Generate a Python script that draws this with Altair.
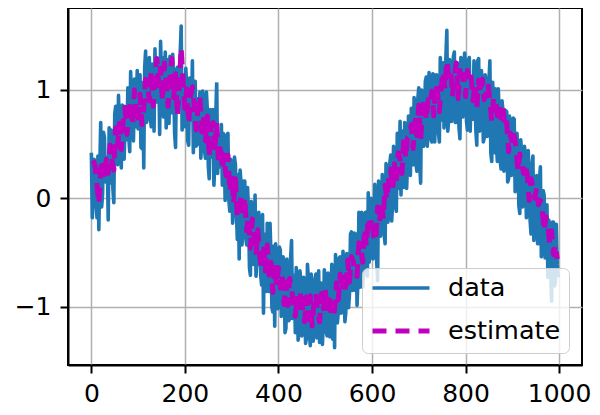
import altair as alt
import pandas as pd

# x positions (time steps)
time_data = list(range(0, 1000, 4))
time_data_mid = list(range(2, 1000, 4))
time_est = list(range(4, 1000, 4))

data_vals = [
    0.42, -0.01, 0.28, -0.18, -0.29, 0.70, 0.04, 0.56, 0.21, -0.20,
    0.14, 0.61, -0.04, 0.85, 0.31, 0.67, 0.28, 0.85, 0.68, 0.54,
    0.57, 1.17, 0.89, 1.10, 0.72, 0.64, 1.14, 0.46, 0.28, 1.36,
    0.75, 1.30, 0.66, 1.09, 1.38, 0.89, 1.21, 1.45, 1.30, 0.98,
    0.65, 1.18, 1.31, 0.79, 1.08, 0.47, 1.21, 1.00, 1.59, 0.78,
    0.66, 1.01, 0.49, 1.05, 1.27, 0.76, 0.48, 0.91, 0.98, 0.53,
    0.78, 0.37, 0.81, 0.18, 0.60, 0.82, 0.33, 1.07, 0.59, 0.46,
    0.12, 0.45, 0.21, 0.60, -0.12, 0.26, -0.08, 0.31, -0.38, -0.56,
    0.14, -0.25, 0.16, -0.43, -0.14, -0.71, -0.14, -0.43, -0.72, -0.61,
    -0.39, -0.80, -1.06, -0.63, -0.23, -0.86, -0.54, -1.05, -1.18, -0.71,
    -0.96, -0.48, -0.93, -0.65, -1.20, -0.79, -1.11, -0.39, -0.97, -1.24,
    -0.80, -1.21, -0.77, -1.08, -0.94, -1.29, -0.75, -1.36, -0.88, -1.18,
    -0.70, -1.07, -1.33, -0.80, -1.12, -0.74, -1.27, -0.83, -0.97, -1.30,
    -1.38, -0.71, -1.04, -0.54, -0.92, -0.72, -1.05, -0.52, -0.87, -0.31,
    -0.73, -0.85, -0.99, -0.13, -0.45, -0.82, -0.21, -0.51, 0.05, -0.40,
    -0.10, -0.54, -0.10, -0.76, 0.13, -0.23, 0.01, -0.42, 0.24, -0.02,
    0.40, -0.06, 0.32, -0.12, 0.59, 0.71, 0.50, 0.10, 0.64, 0.34,
    0.54, 0.83, 0.31, 0.78, 0.25, 1.02, 0.14, 0.97, 0.66, 1.12,
    0.59, 0.94, 0.52, 1.14, 0.78, 1.10, 0.52, 1.08, 1.25, 0.91,
    1.55, 0.73, 1.21, 0.89, 1.35, 0.70, 1.15, 0.55, 1.28, 0.87,
    1.19, 0.63, 1.30, 1.02, 0.73, 1.06, 0.49, 1.29, 0.74, 0.98,
    0.56, 1.08, 0.71, 1.27, 0.34, 0.82, 1.01, 0.34, 0.77, 0.27,
    0.81, 0.50, 0.80, 0.18, 0.60, 0.23, 0.73, 0.09, 0.40, -0.14,
    0.40, 0.06, 0.39, -0.12, 0.15, -0.33, 0.39, -0.11, 0.21, -0.42,
    0.29, -0.41, 0.03, -0.44, -0.73, -0.27, -0.95, -0.22, -0.78, -0.61,
]

data_vals_mid = [
    -0.18, 0.36, -0.02, 0.39, 0.28, -0.08, 0.61, 0.15, 0.38, 0.65,
    0.63, 0.09, 0.78, 0.33, 0.95, 0.48, 0.86, 0.36, 0.82, 1.02,
    0.43, 0.86, 0.53, 0.66, 1.18, 1.05, 0.47, 1.07, 1.21, 0.70,
    1.19, 0.75, 1.24, 0.62, 0.93, 1.29, 0.59, 1.10, 0.75, 1.35,
    1.28, 0.69, 0.84, 1.33, 0.60, 1.19, 0.86, 1.35, 0.63, 1.12,
    1.20, 0.53, 1.11, 0.72, 0.42, 1.08, 0.92, 0.50, 0.37, 0.99,
    0.44, 0.98, 0.30, 0.82, 0.38, 0.12, 0.76, 0.23, 0.29, 0.68,
    0.60, -0.02, 0.59, -0.02, 0.36, -0.23, 0.38, -0.11, 0.22, 0.26,
    -0.43, 0.16, -0.36, 0.10, -0.64, -0.03, -0.61, 0.03, -0.54, -0.13,
    -0.71, -0.15, -0.33, -0.86, -0.78, -0.23, -1.01, -0.44, -0.42, -1.02,
    -0.45, -1.09, -0.54, -1.24, -0.56, -1.13, -0.55, -1.11, -0.71, -0.64,
    -1.31, -0.67, -1.27, -0.73, -1.34, -0.61, -1.22, -0.70, -1.32, -0.75,
    -1.29, -0.67, -0.78, -1.35, -0.66, -1.23, -0.69, -1.28, -0.61, -0.67,
    -0.52, -1.15, -0.55, -1.06, -0.49, -1.14, -0.51, -1.01, -0.33, -0.85,
    -0.32, -0.33, -0.75, -0.82, -0.13, -0.67, -0.13, -0.72, -0.59, 0.00,
    -0.56, 0.13, -0.58, 0.16, -0.35, 0.22, -0.34, 0.32, -0.22, 0.32,
    -0.21, 0.48, -0.06, 0.60, 0.09, 0.03, 0.62, 0.70, 0.09, 0.76,
    0.21, 0.33, 0.93, 0.31, 0.92, 0.32, 1.00, 0.48, 1.08, 0.48,
    1.16, 0.55, 1.15, 0.52, 1.14, 0.61, 1.30, 0.72, 0.65, 1.31,
    0.62, 1.28, 0.71, 1.31, 0.70, 1.25, 0.65, 1.30, 0.75, 1.34,
    0.71, 1.28, 0.62, 0.76, 1.27, 0.63, 1.27, 0.62, 1.18, 0.52,
    1.14, 0.57, 1.08, 0.42, 1.07, 0.42, 0.49, 1.01, 0.35, 0.90,
    0.25, 0.81, 0.15, 0.76, 0.21, 0.74, 0.06, 0.60, -0.07, 0.54,
    -0.08, 0.48, -0.18, 0.44, -0.20, 0.31, -0.39, 0.20, -0.42, 0.17,
    -0.54, 0.07, -0.55, -0.06, -0.20, -0.69, -0.22, -0.81, -0.24, -0.73,
]

est_vals = [
    0.35, 0.30, 0.12, -0.05, 0.28, 0.36, 0.18, 0.36, 0.23, 0.49,
    0.35, 0.26, 0.65, 0.48, 0.69, 0.45, 0.71, 0.84, 0.59, 0.77,
    0.90, 0.67, 1.00, 0.77, 0.69, 0.96, 0.68, 0.82, 1.10, 1.05,
    0.90, 1.18, 0.85, 1.13, 1.29, 1.04, 1.20, 0.90, 1.25, 1.08,
    0.85, 1.11, 1.29, 0.93, 1.15, 0.76, 1.05, 1.39, 1.08, 0.83,
    1.01, 0.69, 0.95, 1.03, 0.86, 0.63, 0.84, 0.95, 0.61, 0.73,
    0.53, 0.76, 0.38, 0.65, 0.70, 0.43, 0.70, 0.31, 0.50, 0.26,
    0.40, 0.21, 0.40, 0.06, 0.22, -0.05, 0.18, -0.18, -0.12, 0.04,
    -0.18, 0.01, -0.30, -0.17, -0.46, -0.19, -0.38, -0.52, -0.29, -0.54,
    -0.66, -0.43, -0.67, -0.43, -0.71, -0.59, -0.87, -0.60, -0.81, -0.64,
    -0.83, -0.71, -0.98, -0.77, -0.99, -0.74, -0.81, -1.00, -1.09, -0.90,
    -1.06, -0.85, -1.03, -1.14, -0.91, -1.12, -0.90, -1.18, -0.95, -0.88,
    -1.07, -1.14, -0.88, -1.02, -0.84, -1.05, -0.88, -1.04, -1.10, -1.03,
    -0.78, -0.94, -0.70, -0.85, -0.67, -0.87, -0.57, -0.77, -0.54, -0.58,
    -0.70, -0.72, -0.41, -0.45, -0.59, -0.28, -0.44, -0.18, -0.27, -0.18,
    -0.36, -0.40, -0.08, -0.22, -0.03, -0.19, 0.12, -0.01, 0.18, 0.27,
    0.08, 0.32, 0.14, 0.42, 0.36, 0.23, 0.57, 0.37, 0.56, 0.57,
    0.68, 0.46, 0.72, 0.58, 0.86, 0.54, 0.82, 0.92, 0.72, 0.91,
    0.87, 0.99, 0.76, 1.06, 0.98, 0.80, 1.03, 1.17, 1.01, 1.27,
    1.13, 1.19, 0.94, 1.12, 1.25, 0.92, 1.18, 1.05, 1.14, 0.94,
    1.18, 1.08, 1.12, 0.90, 1.06, 0.83, 1.09, 0.97, 1.10, 0.91,
    0.98, 1.06, 0.89, 0.71, 0.92, 0.93, 0.76, 0.85, 0.74, 0.84,
    0.65, 0.70, 0.43, 0.60, 0.49, 0.58, 0.46, 0.25, 0.41, 0.32,
    0.23, 0.32, 0.21, -0.02, 0.18, 0.11, 0.00, 0.09, -0.06, -0.02,
    -0.11, -0.30, -0.17, -0.25, -0.42, -0.30, -0.52, -0.43, -0.56,
]

series_names = ["data", "estimate"]
series_colors = ["#1f77b4", "#bf00bf"]
x_ticks = [0, 200, 400, 600, 800, 1000]
y_ticks = [-1, 0, 1]

df = pd.concat([
    pd.DataFrame({"time": time_data, "value": data_vals, "series": "data"}),
    pd.DataFrame({"time": time_data_mid, "value": data_vals_mid, "series": "data"}),
    pd.DataFrame({"time": time_est, "value": est_vals, "series": "estimate"}),
], ignore_index=True).sort_values(["series", "time"]).reset_index(drop=True)

legend_common = dict(
    title=None,
    orient="none",
    legendX=294,
    legendY=260,
    fillColor="rgba(255,255,255,0.8)",
    strokeColor="#cccccc",
    cornerRadius=6,
    padding=8,
    labelFont="DejaVu Sans",
    labelFontSize=25.5,
    labelColor="black",
    labelOffset=16,
    labelExpr="datum.label + '\u00a0\u00a0'",
    symbolType="stroke",
    symbolSize=3249,
    symbolStrokeWidth=4,
    clipHeight=24,
    rowPadding=17,
)

chart = alt.Chart(df).mark_line(strokeJoin="round").encode(
    x=alt.X("time:Q",
            scale=alt.Scale(domain=[-49.95, 1048.95], nice=False, zero=False),
            axis=alt.Axis(values=x_ticks, title=None, labelPadding=8, format="d")),
    y=alt.Y("value:Q",
            scale=alt.Scale(domain=[-1.539, 1.757], nice=False, zero=False),
            axis=alt.Axis(values=y_ticks, title=None, labelPadding=9)),
    color=alt.Color("series:N",
                    scale=alt.Scale(domain=series_names, range=series_colors),
                    legend=alt.Legend(**legend_common)),
    strokeDash=alt.StrokeDash("series:N",
                              scale=alt.Scale(domain=series_names, range=[[1, 0], [14, 9]]),
                              legend=alt.Legend(**legend_common)),
    strokeWidth=alt.StrokeWidth("series:N",
                                scale=alt.Scale(domain=series_names, range=[3.6, 5]),
                                legend=None),
).properties(
    width=514,
    height=357,
    autosize=alt.AutoSizeParams(type="none"),
    padding={"left": 60, "top": 0, "right": 10, "bottom": 42},
).configure_view(
    stroke="black", strokeWidth=2
).configure_axis(
    labelFont="DejaVu Sans",
    labelFontSize=25,
    labelColor="black",
    tickColor="black",
    tickSize=8,
    tickWidth=2,
    domainColor="black",
    domainWidth=2,
    gridColor="#b0b0b0",
    gridWidth=1.5,
    gridOpacity=1,
)

chart.save("out.html", embed_options={"renderer": "svg", "actions": False})
